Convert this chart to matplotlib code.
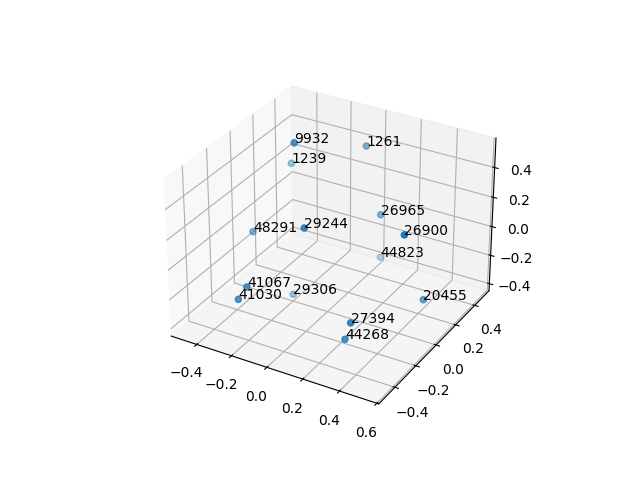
import matplotlib
matplotlib.use('Agg')
import matplotlib.pyplot as plt

etiquetas = ['9932', '1261', '1239', '26965', '29244', '48291', '26900',
             '44823', '41067', '29306', '41030', '20455', '27394', '44268']
xs = [-0.231, 0.068, -0.232, 0.212, -0.081, -0.306, 0.352,
      0.254, -0.255, -0.064, -0.276, 0.499, 0.229, 0.221]
ys = [0.0745, 0.2492, 0.0479, 0.1446, -0.0794, -0.185, 0.1308,
      0.0726, -0.3241, -0.2106, -0.3685, 0.0656, -0.1623, -0.2017]
zs = [0.574, 0.547, 0.454, 0.199, 0.149, 0.113, 0.120,
      -0.028, -0.155, -0.210, -0.217, -0.225, -0.330, -0.419]

fig = plt.figure()
ax = fig.add_subplot(projection='3d')
ax.scatter(xs, ys, zs)
for x, y, z, etiqueta in zip(xs, ys, zs, etiquetas):
    ax.text(x, y, z, etiqueta)

ax.set_xlim(-0.55, 0.61, view_margin=0)
ax.set_ylim(-0.55, 0.555, view_margin=0)
ax.set_zlim(-0.45, 0.595, view_margin=0)

fig.savefig('out.png')
